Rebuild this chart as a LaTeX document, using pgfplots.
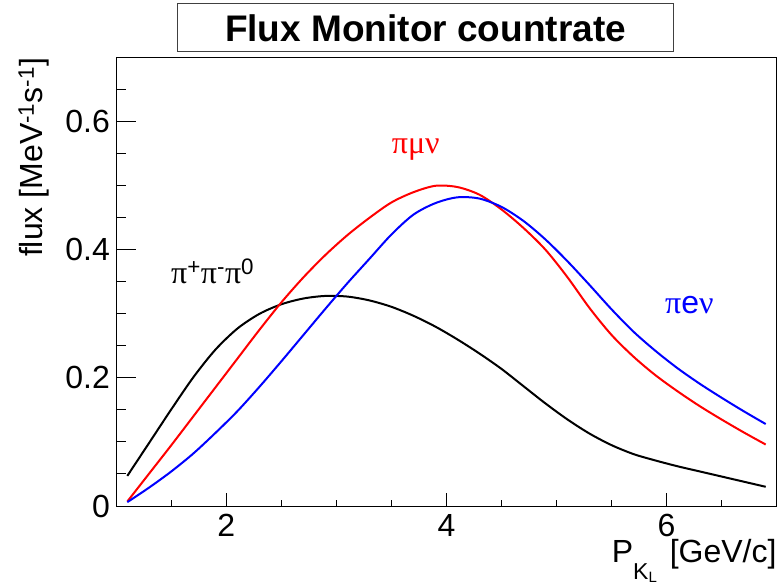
\documentclass[border=0pt]{standalone}
\usepackage{pgfplots}
\pgfplotsset{compat=1.18}
\usepackage{fontspec}
\setmainfont{Liberation Sans}
\newfontfamily\grk{Liberation Serif}

% flux of K_L decays
\pgfplotstableread{
p      f
1.1  0.047
1.3  0.099
1.5  0.151
1.7  0.201
1.9  0.244
2.1  0.277
2.3  0.300
2.5  0.315
2.7  0.324
2.9  0.328
3.1  0.327
3.3  0.321
3.5  0.311
3.7  0.297
3.9  0.280
4.1  0.260
4.3  0.238
4.5  0.214
4.7  0.187
4.9  0.160
5.1  0.135
5.3  0.113
5.5  0.095
5.7  0.081
5.9  0.071
6.1  0.062
6.3  0.054
6.5  0.046
6.7  0.038
6.9  0.030
}\threepi

\pgfplotstableread{
p      f
1.1  0.007
1.3  0.051
1.5  0.095
1.7  0.140
1.9  0.185
2.1  0.230
2.3  0.275
2.5  0.318
2.7  0.357
2.9  0.392
3.1  0.423
3.3  0.450
3.5  0.474
3.7  0.490
3.9  0.500
4.1  0.498
4.3  0.486
4.5  0.463
4.7  0.434
4.9  0.400
5.1  0.357
5.3  0.309
5.5  0.267
5.7  0.233
5.9  0.204
6.1  0.179
6.3  0.156
6.5  0.135
6.7  0.115
6.9  0.096
}\pimunu

\pgfplotstableread{
p      f
1.1  0.006
1.3  0.029
1.5  0.054
1.7  0.082
1.9  0.114
2.1  0.148
2.3  0.186
2.5  0.226
2.7  0.267
2.9  0.308
3.1  0.348
3.3  0.386
3.5  0.424
3.7  0.455
3.9  0.473
4.1  0.482
4.3  0.480
4.5  0.467
4.7  0.445
4.9  0.416
5.1  0.382
5.3  0.345
5.5  0.307
5.7  0.272
5.9  0.242
6.1  0.215
6.3  0.191
6.5  0.169
6.7  0.148
6.9  0.128
}\pienu

\pgfplotsset{
  rootframe/.style={
    scale only axis,
    width=660.4pt, height=448.3pt,
    xmin=1, xmax=7, ymin=0, ymax=0.7,
    axis line style={line width=1pt},
    every tick/.style={line width=1pt, black},
    tick align=inside,
    xtick pos=bottom, ytick pos=left,
    /pgf/number format/assume math mode=true,
    tick label style={font=\fontsize{32}{32}\selectfont, inner sep=0pt},
  },
}

\begin{document}
\begin{tikzpicture}
\path[use as bounding box] (-116.3pt,-80pt) rectangle (661.7pt,506pt);

% x ticks, curves, labels
\begin{axis}[
  rootframe,
  major tick length=13pt, minor tick length=6.5pt,
  xtick={2,4,6},
  minor xtick={1.5,2.5,3,3.5,4.5,5,5.5,6.5},
  ytick=\empty,
  xticklabel style={anchor=north, yshift=-8pt},
  xlabel={P\raisebox{-17pt}{\fontsize{23}{23}\selectfont K\raisebox{-3pt}{\fontsize{15}{15}\selectfont L}}\hspace{4pt} [GeV/c]},
  xlabel style={at={(axis description cs:1,-0.1271)}, anchor=base east,
    inner sep=0pt, font=\fontsize{32}{32}\selectfont},
  ylabel={flux [MeV\textsuperscript{-1}s\textsuperscript{-1}]},
  ylabel style={at={(axis description cs:-0.111,1)}, anchor=base east,
    inner sep=0pt, font=\fontsize{32}{32}\selectfont},
  title={Flux Monitor countrate},
  title style={at={(axis description cs:0.4682,1.0666)}, anchor=center, yshift=-6pt,
    draw=black!75, line width=1pt, minimum width=495.6pt, minimum height=47.7pt,
    inner sep=0pt, font=\bfseries\fontsize{37}{37}\selectfont},
]
\addplot[black, line width=2pt, smooth] table[x=p, y=f] {\threepi};
\addplot[red, line width=2pt, smooth] table[x=p, y=f] {\pimunu};
\addplot[blue, line width=2pt, smooth] table[x=p, y=f] {\pienu};

\node[anchor=base west, inner sep=0pt, font=\fontsize{32}{32}\selectfont]
  at (axis cs:1.497,0.348) {{\grk π}\textsuperscript{+}{\grk π}\textsuperscript{-}{\grk π}\textsuperscript{0}};
\node[anchor=base west, inner sep=0pt, red, font=\fontsize{32}{32}\selectfont]
  at (axis cs:3.502,0.551) {\grk πμν};
\node[anchor=base west, inner sep=0pt, blue, font=\fontsize{32}{32}\selectfont]
  at (axis cs:5.985,0.301) {{\grk π}e{\grk ν}};
\end{axis}

% y ticks (longer, as ROOT scales them by the other axis)
\begin{axis}[
  rootframe,
  major tick length=20pt, minor tick length=10pt,
  xtick=\empty,
  ytick={0,0.2,0.4,0.6},
  minor ytick={0.05,0.1,0.15,0.25,0.3,0.35,0.45,0.5,0.55,0.65},
  yticklabel style={anchor=east, xshift=-6.3pt},
]
\end{axis}
\end{tikzpicture}
\end{document}
